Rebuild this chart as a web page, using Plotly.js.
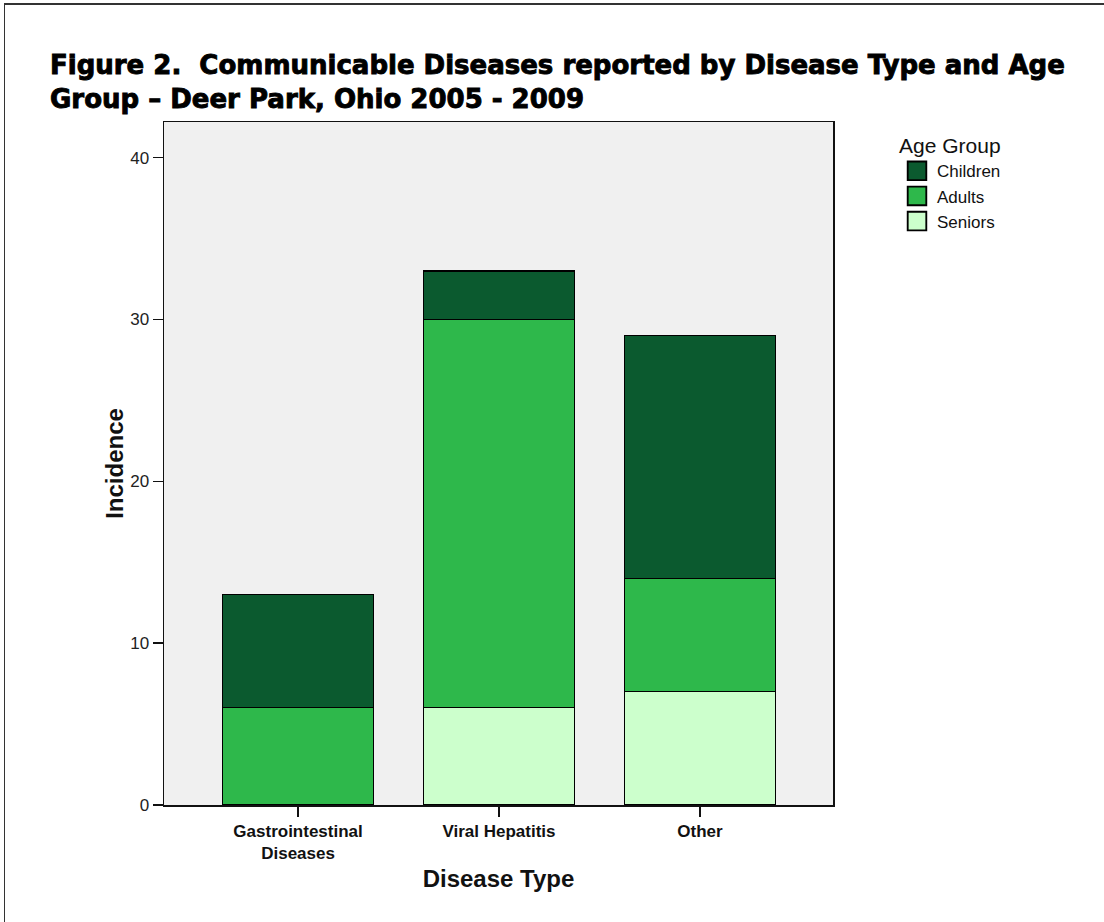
<!DOCTYPE html>
<html>
<head>
<meta charset="utf-8">
<script src="https://cdn.plot.ly/plotly-3.0.1.min.js"></script>
<style>
html,body{margin:0;padding:0;background:#fff;}
#wrap{position:relative;width:1104px;height:922px;}
#chart{position:absolute;left:0;top:0;width:1104px;height:922px;}
#frame{position:absolute;left:4px;top:3px;width:1100px;height:919px;border-top:2px solid #333;border-left:1.5px solid #333;pointer-events:none;}
.gtitle{stroke:#000;stroke-width:0.9px;}
.legendpoints path{transform:translate(20px,0px) scale(1.55);}
</style>
</head>
<body>
<div id="wrap"><div id="chart"></div><div id="frame"></div></div>
<script>
const categories = ["Gastrointestinal<br>Diseases", "Viral Hepatitis", "Other"];
const seniors  = [0, 6, 7];
const adults   = [6, 24, 7];
const children = [7, 3, 15];
const yTicks = [0, 10, 20, 30, 40];

const outline = {color: "#000", width: 1.2};
function bar(name, values, color) {
  return {type: "bar", name: name, x: categories, y: values, width: 0.75,
    marker: {color: color, line: outline}, hoverinfo: "skip"};
}
const data = [
  bar("Seniors", seniors, "#ccffcc"),
  bar("Adults", adults, "#2eb84b"),
  bar("Children", children, "#0b5a2f")
];

const layout = {
  width: 1104, height: 922,
  margin: {l: 164, r: 271, t: 122, b: 117, pad: 0},
  paper_bgcolor: "#fff",
  plot_bgcolor: "#f0f0f0",
  barmode: "stack",
  font: {family: "Liberation Sans, Arial, sans-serif", color: "#1a1a1a"},
  title: {
    text: "Figure 2.  Communicable Diseases reported by Disease Type and Age<br>Group – Deer Park, Ohio 2005 - 2009",
    font: {family: "DejaVu Sans", size: 26, color: "#000", weight: "bold"},
    xref: "container", yref: "container", x: 50/1104, xanchor: "left",
    y: 1 - 74/922, yanchor: "top"
  },
  xaxis: {
    type: "category", range: [-0.667, 2.662],
    showline: true, linecolor: "#111", linewidth: 1.5, mirror: true,
    ticks: "outside", ticklen: 10, tickwidth: 1.5, tickcolor: "#111",
    tickfont: {size: 17, weight: "bold", color: "#111"},
    showgrid: false, zeroline: false,
    title: {text: "Disease Type", font: {size: 24, weight: "bold", color: "#111"}, standoff: 8}
  },
  yaxis: {
    range: [0, 42.2], tickvals: yTicks,
    showline: true, linecolor: "#111", linewidth: 1.5, mirror: true,
    ticks: "outside", ticklen: 10, tickwidth: 1.5, tickcolor: "#111",
    tickfont: {size: 17, color: "#222"},
    showgrid: false, zeroline: false,
    title: {text: "Incidence", font: {size: 24, weight: "bold", color: "#111"}, standoff: 0}
  },
  showlegend: true,
  legend: {
    xref: "container", yref: "container", x: 897/1104, y: 1 - 126/922,
    xanchor: "left", yanchor: "top", traceorder: "reversed",
    title: {text: "Age Group", font: {size: 21, color: "#111"}},
    font: {size: 17, color: "#111"},
    bgcolor: "rgba(0,0,0,0)", itemwidth: 30, tracegroupgap: 0
  }
};

Plotly.newPlot("chart", data, layout, {displayModeBar: false, staticPlot: true});
</script>
</body>
</html>
